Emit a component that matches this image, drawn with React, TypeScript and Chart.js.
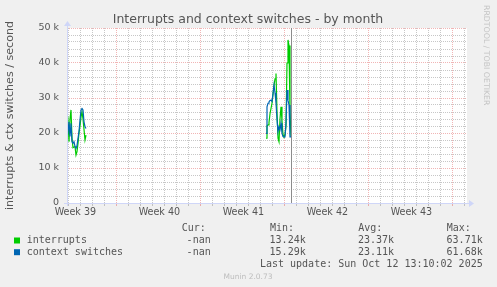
import React, { useEffect, useRef } from "react";
import { Chart, registerables } from "chart.js";

Chart.register(...registerables);

// ---------------- data ----------------
const STEP_DAYS = 1 / 12; // 2-hour consolidation steps
const chunkStartDays = [0, 199 / 12];

const interruptsChunk1 = [21900, 23500, 17500, 24000, 26600, 18500, 15800, 16000, 16100, 13700, 14700, 17000, 20000, 22000, 24500, 26100, 24000, 21000, 18000, 19400];
const interruptsChunk2 = [18500, 22000, 22300, 23000, 25500, 27000, 28500, 31000, 33500, 35500, 37000, 26000, 18500, 17500, 24000, 27500, 23500, 19500, 19000, 19500, 22000, 40000, 46600, 45000, 26000, 19000];
const ctxSwitchChunk1 = [21400, 20400, 23200, 19000, 22800, 17500, 17100, 17500, 16100, 15600, 16400, 18500, 20500, 23700, 26600, 27000, 26600, 23200, 21800, 21300];
const ctxSwitchChunk2 = [19900, 27500, 28500, 28900, 29300, 29400, 29000, 31300, 33700, 31500, 28500, 24000, 20400, 21800, 21000, 22800, 19900, 19000, 18900, 18900, 22800, 32300, 29400, 28000, 18900, 18900];

const seriesNames = ["interrupts", "context switches"];
const seriesColors = ["#00CC00", "#0066B3"];
const curValues = ["-nan", "-nan"];
const minValues = ["13.24k", "15.29k"];
const avgValues = ["23.37k", "23.11k"];
const maxValues = ["63.71k", "61.68k"];

const weekLabels = ["Week 39", "Week 40", "Week 41", "Week 42", "Week 43"];
const weekLabelDays = [0.7, 7.7, 14.7, 21.7, 28.7];
const weekStartDays = [4.125, 11.125, 18.125, 25.125, 32.125];
const dayLineDays = Array.from({ length: 34 }, (_, i) => 0.125 + i);
const X_MAX_DAYS = 400 / 12;
const nowDay = 18.67;

const yMajorTicks = [0, 10000, 20000, 30000, 40000, 50000];
const yTickLabels = ["0", "10 k", "20 k", "30 k", "40 k", "50 k"];
const Y_MINOR_STEP = 2000;
const Y_MAX = 50000;

const titleText = "Interrupts and context switches - by month";
const yTitleText = "interrupts & ctx switches / second";
const lastUpdateText = "Last update: Sun Oct 12 13:10:02 2025";
const versionText = "Munin 2.0.73";
const watermarkText = "RRDTOOL / TOBI OETIKER";

// ---------------- styles ----------------
const FONT = '"DejaVu Sans", sans-serif';
const MONO = '"DejaVu Sans Mono", monospace';
const TEXT = "#555555";
const GRID = "rgba(143,143,143,0.5)";
const MGRID = "rgba(222,79,79,0.42)";
const AXIS = "#CFD6F8";
const CLEAR = "rgba(0,0,0,0)";

function buildSeries(chunks: number[][]) {
  const pts: { x: number; y: number | null }[] = [];
  chunks.forEach((vals, c) => {
    if (c > 0) pts.push({ x: chunkStartDays[c] - STEP_DAYS / 2, y: null });
    vals.forEach((v, i) => pts.push({ x: chunkStartDays[c] + i * STEP_DAYS, y: v }));
  });
  return pts;
}

const xTickValues = [...dayLineDays, ...weekLabelDays].sort((a, b) => a - b);
const yTickValues: number[] = [];
for (let v = 0; v <= Y_MAX; v += Y_MINOR_STEP) yTickValues.push(v);

const muninPlugin = {
  id: "munin",
  beforeDraw(chart: any) {
    const { ctx, chartArea: a } = chart;
    ctx.save();
    ctx.fillStyle = "#F0F0F0";
    ctx.fillRect(0, 0, chart.width, chart.height);
    ctx.fillStyle = "#FFFFFF";
    ctx.fillRect(a.left, a.top, a.right - a.left, a.bottom - a.top);
    ctx.restore();
  },
  afterDatasetsDraw(chart: any) {
    const { ctx, chartArea: a } = chart;
    const xs = chart.scales.x;
    ctx.save();
    // "now" line
    const nx = Math.round(xs.getPixelForValue(nowDay)) + 0.5;
    ctx.strokeStyle = "#8c8c8c";
    ctx.lineWidth = 1;
    ctx.beginPath();
    ctx.moveTo(nx, a.top);
    ctx.lineTo(nx, a.bottom);
    ctx.stroke();
    // axes with arrows
    ctx.strokeStyle = AXIS;
    ctx.fillStyle = AXIS;
    ctx.beginPath();
    ctx.moveTo(a.left - 3, a.bottom + 0.5);
    ctx.lineTo(a.right + 2, a.bottom + 0.5);
    ctx.moveTo(a.left + 0.5, a.bottom + 3);
    ctx.lineTo(a.left + 0.5, a.top - 2);
    ctx.stroke();
    ctx.beginPath();
    ctx.moveTo(a.right + 7, a.bottom + 0.5);
    ctx.lineTo(a.right + 2, a.bottom - 3);
    ctx.lineTo(a.right + 2, a.bottom + 4);
    ctx.closePath();
    ctx.fill();
    ctx.beginPath();
    ctx.moveTo(a.left + 0.5, a.top - 7);
    ctx.lineTo(a.left - 3, a.top - 2);
    ctx.lineTo(a.left + 4, a.top - 2);
    ctx.closePath();
    ctx.fill();
    ctx.restore();
  },
  afterDraw(chart: any) {
    const { ctx } = chart;
    ctx.save();
    // title
    ctx.fillStyle = TEXT;
    ctx.font = `12.5px ${FONT}`;
    ctx.textAlign = "center";
    ctx.textBaseline = "alphabetic";
    ctx.fillText(titleText, 248, 23);

    // legend table
    ctx.font = `10px ${MONO}`;
    ctx.textAlign = "left";
    ctx.fillText("Cur:", 181.7, 230.7);
    ctx.fillText("Min:", 270, 230.7);
    ctx.fillText("Avg:", 358.3, 230.7);
    ctx.fillText("Max:", 446.7, 230.7);
    const rowY = [243.3, 255];
    seriesNames.forEach((name, i) => {
      const y = rowY[i];
      ctx.fillStyle = seriesColors[i];
      ctx.fillRect(14, y - 5.8, 6, 6);
      ctx.fillStyle = TEXT;
      ctx.textAlign = "left";
      ctx.fillText(name, 26.7, y);
      ctx.textAlign = "right";
      ctx.fillText(curValues[i], 210.7, y);
      ctx.fillText(minValues[i], 305.7, y);
      ctx.fillText(avgValues[i], 394, y);
      ctx.fillText(maxValues[i], 482.7, y);
    });
    ctx.textAlign = "right";
    ctx.fillText(lastUpdateText, 482.7, 266.7);

    // version
    ctx.fillStyle = "#bdbdbd";
    ctx.font = `7.5px ${FONT}`;
    ctx.textAlign = "center";
    ctx.fillText(versionText, 248, 279.3);

    // watermark
    ctx.translate(486, 5);
    ctx.rotate(Math.PI / 2);
    ctx.fillStyle = "#c4c4c4";
    ctx.font = `7.8px ${FONT}`;
    ctx.textAlign = "left";
    ctx.textBaseline = "middle";
    ctx.fillText(watermarkText, 0, 0);
    ctx.restore();
  },
};

export default function App() {
  const ref = useRef<HTMLCanvasElement>(null);
  useEffect(() => {
    document.body.style.margin = "0";
    const canvas = ref.current!;
    const chart = new Chart(canvas, {
      type: "line",
      data: {
        datasets: [
          {
            label: seriesNames[0],
            data: buildSeries([interruptsChunk1, interruptsChunk2]) as any,
            borderColor: seriesColors[0],
            backgroundColor: seriesColors[0],
            borderWidth: 1.2,
            pointRadius: 0,
            tension: 0,
            spanGaps: false,
            order: 1,
          },
          {
            label: seriesNames[1],
            data: buildSeries([ctxSwitchChunk1, ctxSwitchChunk2]) as any,
            borderColor: seriesColors[1],
            backgroundColor: seriesColors[1],
            borderWidth: 1.2,
            pointRadius: 0,
            tension: 0,
            spanGaps: false,
            order: 0,
          },
        ],
      },
      options: {
        animation: false,
        responsive: false,
        devicePixelRatio: 1,
        layout: { padding: { top: 28, right: 30, bottom: 64, left: 0 } },
        plugins: {
          legend: { display: false },
          tooltip: { enabled: false },
          title: { display: false },
        },
        scales: {
          x: {
            type: "linear",
            min: 0,
            max: X_MAX_DAYS,
            afterBuildTicks: (s: any) => {
              s.ticks = xTickValues.map((v) => ({ value: v }));
            },
            afterFit: (s: any) => {
              s.height = 20;
            },
            ticks: {
              autoSkip: false,
              maxRotation: 0,
              minRotation: 0,
              padding: 1,
              color: TEXT,
              font: { family: FONT, size: 9.6 },
              callback: (v: any) => {
                const i = weekLabelDays.indexOf(v);
                return i >= 0 ? weekLabels[i] : "";
              },
            },
            grid: {
              lineWidth: 1,
              tickLength: 3,
              color: (c: any) => {
                const v = c.tick?.value;
                if (weekLabelDays.includes(v)) return CLEAR;
                return weekStartDays.includes(v) ? MGRID : GRID;
              },
              tickColor: (c: any) => {
                const v = c.tick?.value;
                if (weekLabelDays.includes(v)) return CLEAR;
                return weekStartDays.includes(v) ? MGRID : GRID;
              },
            },
            border: { display: false, dash: [1, 1] },
          },
          y: {
            type: "linear",
            min: 0,
            max: Y_MAX,
            afterBuildTicks: (s: any) => {
              s.ticks = yTickValues.map((v) => ({ value: v }));
            },
            afterFit: (s: any) => {
              s.width = 67;
            },
            ticks: {
              autoSkip: false,
              padding: 8,
              color: TEXT,
              font: { family: FONT, size: 9.5 },
              callback: (v: any) => {
                const i = yMajorTicks.indexOf(v);
                return i >= 0 ? yTickLabels[i] : "";
              },
            },
            grid: {
              drawTicks: false,
              lineWidth: 1,
              color: (c: any) => {
                const v = c.tick?.value;
                if (v === 0) return CLEAR;
                return yMajorTicks.includes(v) ? MGRID : GRID;
              },
            },
            border: { display: false, dash: [1, 1] },
            title: {
              display: true,
              text: yTitleText,
              color: TEXT,
              font: { family: FONT, size: 11.1 },
              padding: { top: 3.4, bottom: 0 },
            },
          },
        },
      },
      plugins: [muninPlugin],
    });
    return () => chart.destroy();
  }, []);
  return (
    <div style={{ width: 497, height: 287, background: "#F0F0F0" }}>
      <canvas ref={ref} width={497} height={287} style={{ display: "block" }} />
    </div>
  );
}
